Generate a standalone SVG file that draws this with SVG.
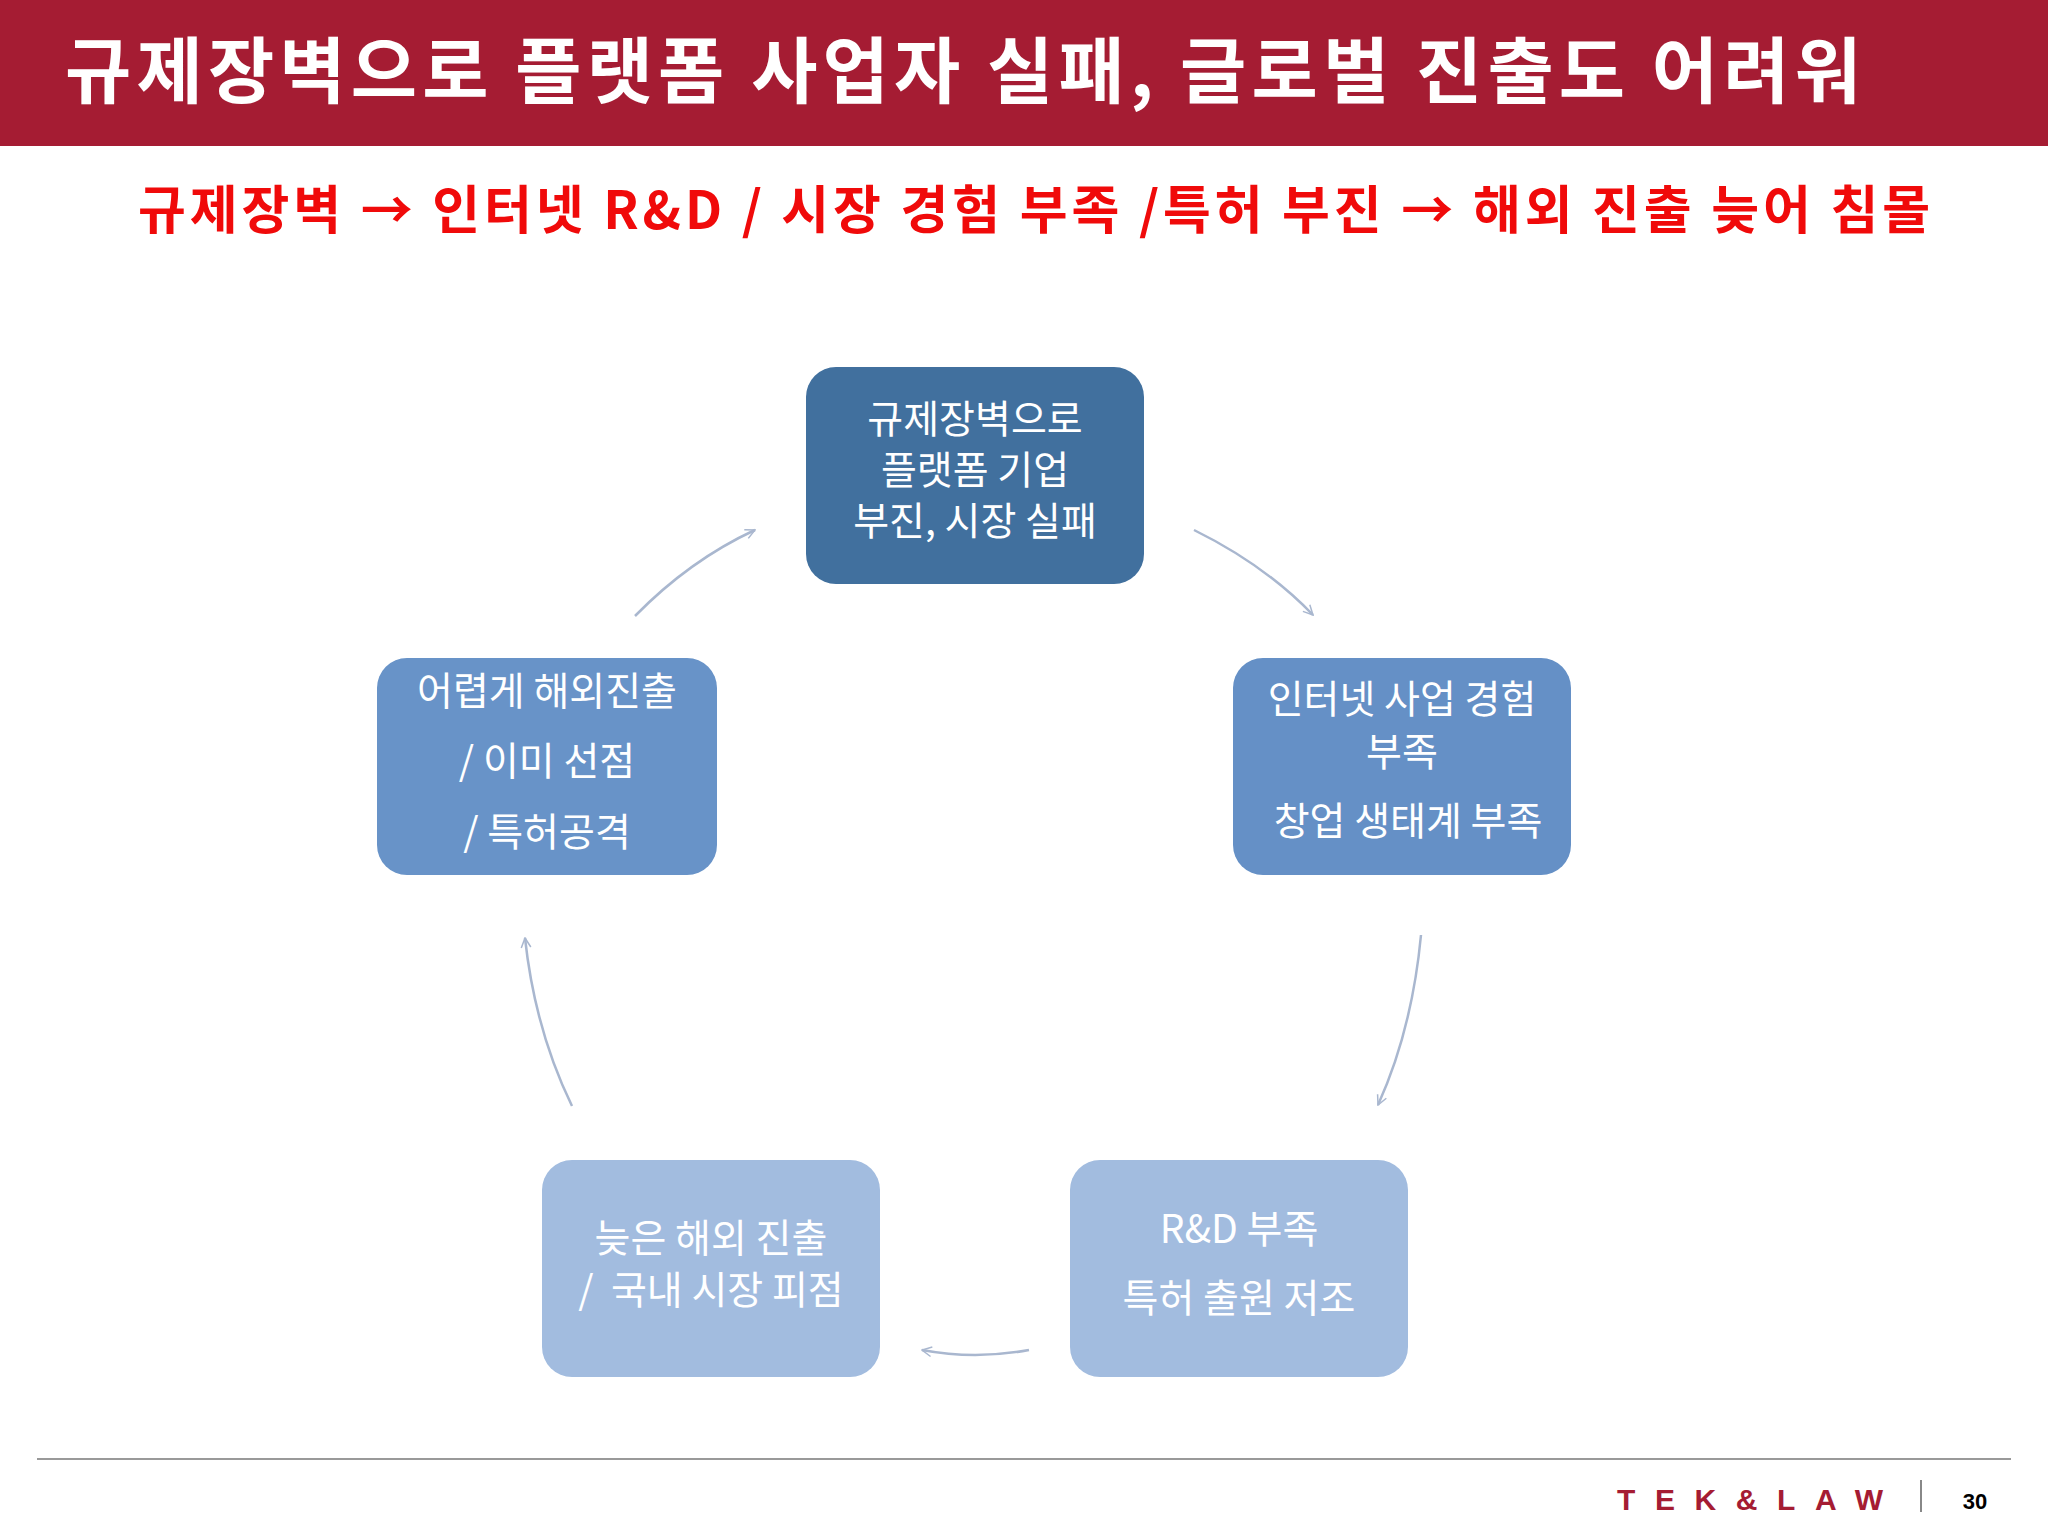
<svg xmlns="http://www.w3.org/2000/svg" width="2048" height="1536" viewBox="0 0 2048 1536">
<defs>
<style>
.t{font-family:"Noto Sans CJK KR","Noto Sans",sans-serif;fill:#fff;font-size:39px;text-anchor:middle;dominant-baseline:middle}
.c{fill:none;stroke:#A9B7CF;stroke-width:2.5}
</style>
<marker id="ah" viewBox="0 0 20 20" refX="18" refY="10" markerWidth="12" markerHeight="12" orient="auto" markerUnits="userSpaceOnUse"><path d="M2,2 L18,10 L2,18" fill="none" stroke="#A9B7CF" stroke-width="2.5"/></marker>
</defs>
<rect width="2048" height="1536" fill="#fff"/>
<rect width="2048" height="146" fill="#A51C33"/>
<text x="65" y="77" font-family="Noto Sans CJK KR,sans-serif" font-weight="bold" font-size="72" fill="#fff" dominant-baseline="middle" textLength="1796" lengthAdjust="spacing">규제장벽으로 플랫폼 사업자 실패, 글로벌 진출도 어려워</text>
<text x="138" y="215" font-family="Noto Sans CJK KR,sans-serif" font-weight="bold" font-size="52" fill="#F00A0A" dominant-baseline="middle" textLength="1792" lengthAdjust="spacing">규제장벽 → 인터넷 R&amp;D / 시장 경험 부족 /특허 부진 → 해외 진출 늦어 침몰</text>
<g id="n1"><rect x="806" y="367" width="338" height="217" rx="30" fill="#41709E"/>
<text class="t" x="975" y="422">규제장벽으로</text><text class="t" x="975" y="473">플랫폼 기업</text><text class="t" x="975" y="524">부진, 시장 실패</text></g>
<g id="n2"><rect x="1233" y="658" width="338" height="217" rx="30" fill="#6590C6"/>
<text class="t" x="1402" y="702">인터넷 사업 경험</text><text class="t" x="1402" y="755">부족</text><text class="t" x="1408" y="824">창업 생태계 부족</text></g>
<g id="n3"><rect x="1070" y="1160" width="338" height="217" rx="30" fill="#A2BCDF"/>
<text class="t" x="1239" y="1232">R&amp;D 부족</text><text class="t" x="1239" y="1301">특허 출원 저조</text></g>
<g id="n4"><rect x="542" y="1160" width="338" height="217" rx="30" fill="#A2BCDF"/>
<text class="t" x="711" y="1241">늦은 해외 진출</text><text class="t" x="711" y="1293" xml:space="preserve">/  국내 시장 피점</text></g>
<g id="n5"><rect x="377" y="658" width="340" height="217" rx="30" fill="#6893C8"/>
<text class="t" x="547" y="694">어렵게 해외진출</text><text class="t" x="547" y="764">/ 이미 선점</text><text class="t" x="547" y="835">/ 특허공격</text></g>
<g id="connectors">
<path class="c" marker-end="url(#ah)" d="M1194,530 Q1265,565 1313,615"/>
<path class="c" marker-end="url(#ah)" d="M1421,935 Q1412,1030 1378,1105"/>
<path class="c" marker-end="url(#ah)" d="M1029,1350 Q975,1360 922,1350"/>
<path class="c" marker-end="url(#ah)" d="M572,1106 Q535,1030 525,938"/>
<path class="c" marker-end="url(#ah)" d="M635,616 Q690,560 755,530"/>
</g>
<line x1="37" y1="1459" x2="2011" y2="1459" stroke="#999" stroke-width="2"/>
<text x="1617" y="1502" font-family="Liberation Sans,sans-serif" font-weight="bold" font-size="30" fill="#A51C33" dominant-baseline="middle" textLength="266" lengthAdjust="spacing">TEK&amp;LAW</text>
<line x1="1921" y1="1480" x2="1921" y2="1512" stroke="#888" stroke-width="2"/>
<text x="1975" y="1503" font-family="Liberation Sans,sans-serif" font-weight="bold" font-size="22" fill="#000" text-anchor="middle" dominant-baseline="middle">30</text>
</svg>
